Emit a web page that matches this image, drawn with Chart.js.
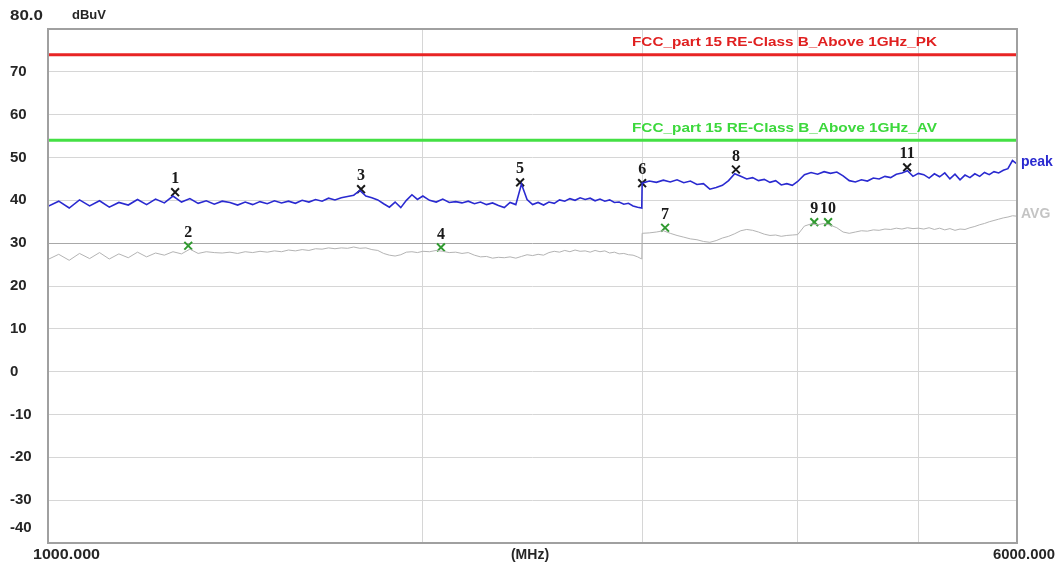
<!DOCTYPE html>
<html>
<head>
<meta charset="utf-8">
<script src="https://cdn.jsdelivr.net/npm/chart.js@4/dist/chart.umd.min.js"></script>
<style>
  body { margin: 0; background: #fff; }
  #wrap { width: 1059px; height: 567px; }
</style>
</head>
<body>
<div id="wrap"><canvas id="chart"></canvas></div>
<script>
// frequencies in MHz, shared by both traces
const freqMHz = [
  1000,1020,1040,1060,1080,1100,1120,1140,1160,1180,1200,1220,1240,1260,1280,1300,1320,1340,1360,1380,
  1400,1420,1440,1460,1480,1500,1520,1540,1560,1580,1600,1620,1640,1660,1680,1700,1720,1740,1760,1780,
  1800,1820,1840,1860,1880,1900,1920,1940,1960,1980,2000,
  2025,2050,2075,2100,2125,2150,2175,2200,2225,2250,2275,2300,2325,2350,2375,2400,2425,2450,2475,2500,
  2525,2550,2575,2600,2625,2650,2675,2700,2725,2750,2775,2800,2825,2850,2875,2900,2925,2950,2975,
  2998,3000,
  3040,3080,3120,3160,3200,3240,3280,3320,3360,3400,3440,3480,3520,3560,3600,3640,3680,3720,3760,3800,
  3840,3880,3920,3960,4000,
  4050,4100,4150,4200,4250,4300,4350,4400,4450,4500,4550,4600,4650,4700,4750,4800,4850,4900,4950,5000,
  5050,5100,5150,5200,5250,5300,5350,5400,5450,5500,5550,5600,5650,5700,5750,5800,5850,5900,5950,6000
];

// peak trace, dBuV
const peakDb = [
  38.6,39.8,38.2,40.1,38.7,39.9,38.4,39.5,38.9,40.2,39.0,40.3,39.4,41.0,39.6,40.4,39.3,39.9,39.1,39.8,
  39.5,38.9,39.6,39.0,39.7,39.2,39.9,39.4,39.8,39.3,40.0,39.6,40.2,39.8,40.5,40.1,40.6,40.9,41.2,42.3,
  41.0,40.6,40.1,39.2,38.4,39.6,38.3,40.0,41.3,40.2,41.0,
  40.0,39.6,40.3,39.5,39.7,39.4,39.8,39.2,39.6,39.0,39.4,38.8,38.3,39.5,39.0,43.8,40.2,39.0,39.5,38.9,
  39.6,39.3,40.1,39.8,40.4,40.0,40.6,40.2,40.5,39.9,40.3,39.8,40.1,39.5,39.6,39.1,39.3,38.7,38.4,
  38.2,44.0,
  44.5,44.2,44.7,44.3,44.8,44.1,44.5,43.7,43.9,42.6,43.0,43.5,44.6,46.2,45.6,45.0,45.3,44.6,44.9,44.2,
  44.6,43.6,43.9,43.5,44.4,
  46.0,46.5,46.1,46.7,46.3,46.6,45.7,44.6,44.3,44.8,44.5,45.2,45.0,45.6,45.3,46.1,46.4,46.9,45.6,46.3,
  46.0,45.2,46.2,45.5,46.4,45.0,46.1,44.8,45.9,45.3,46.2,45.6,46.5,46.0,46.7,46.4,47.0,47.4,49.3,48.5
];

// average trace, dBuV
const avgDb = [
  26.2,27.4,26.0,27.6,26.4,27.8,26.3,27.5,26.6,27.9,26.8,27.7,27.2,28.0,27.5,28.6,27.6,28.0,27.8,27.7,
  27.9,27.6,28.0,27.8,28.1,27.9,28.2,28.0,28.4,28.2,28.5,28.3,28.7,28.6,28.9,28.7,28.9,28.8,29.1,28.8,
  28.9,28.5,28.3,27.6,27.2,27.0,27.3,27.9,28.0,27.8,28.1,
  28.0,28.3,28.1,27.8,27.9,27.6,27.8,27.2,26.8,26.9,26.5,26.7,26.6,26.8,26.5,26.9,27.3,27.1,27.4,27.2,
  27.8,28.1,27.9,28.3,28.0,28.4,28.1,28.2,27.9,28.3,28.0,28.2,27.7,27.9,27.5,27.6,27.3,27.2,26.8,
  26.3,32.3,
  32.4,32.6,32.9,32.3,31.8,31.4,31.0,30.8,30.4,30.2,30.6,31.2,31.6,32.2,32.9,33.2,33.0,32.6,32.1,31.8,
  31.9,31.6,31.8,31.9,32.0,
  34.0,34.5,34.3,34.6,34.2,33.6,32.6,32.3,32.6,32.9,32.8,33.1,33.0,33.3,33.2,33.5,33.3,33.6,33.4,33.5,
  33.3,33.6,33.2,33.5,33.1,33.4,33.0,33.3,33.2,33.6,33.9,34.3,34.6,35.0,35.3,35.6,35.9,36.1,36.4,36.3
];

// limit lines
const limitFreq = [1000, 6000];
const pkLimit = 74;
const avLimit = 54;
const pkLimitName = "FCC_part 15 RE-Class B_Above 1GHz_PK";
const avLimitName = "FCC_part 15 RE-Class B_Above 1GHz_AV";

// markers
const markerNo = ["1","2","3","4","5","6","7","8","9","10","11"];
const markerFreq = [1265, 1296, 1784, 2068, 2394, 3000, 3130, 3568, 4124, 4231, 4897];
const markerDb = [41.9, 29.4, 42.6, 29.0, 44.2, 44.0, 33.6, 47.2, 34.9, 34.9, 47.7];
const markerTrace = ["peak","avg","peak","avg","peak","peak","avg","peak","avg","avg","peak"];

// axes
const yLabels = [70, 60, 50, 40, 30, 20, 10, 0, -10, -20, -30];
const xGrid = [1000, 2000, 3000, 4000, 5000, 6000];

const BLUE = "#2a2ad0";
const GREY = "#b4b4b4";
const MARK_GREEN = "#2f9a2f";

const pts = (xs, ys) => xs.map((x, i) => ({ x: x, y: Array.isArray(ys) ? ys[i] : ys }));

function txt(ctx, s, x, y, font, color, align, width) {
  ctx.save();
  ctx.font = font;
  ctx.fillStyle = color;
  ctx.textBaseline = "middle";
  ctx.textAlign = align || "left";
  if (width) {
    // stretch to the width seen in the picture
    const w = ctx.measureText(s).width;
    const k = width / w;
    ctx.translate(x, y);
    ctx.scale(k, 1);
    ctx.fillText(s, 0, 0);
  } else {
    ctx.fillText(s, x, y);
  }
  ctx.restore();
}

const emcText = {
  id: "emcText",
  beforeDraw(chart) {
    const ctx = chart.ctx;
    ctx.save();
    ctx.fillStyle = "#fff";
    ctx.fillRect(0, 0, chart.width, chart.height);
    ctx.restore();
  },
  afterDatasetsDraw(chart) {
    const ctx = chart.ctx;
    const a = chart.chartArea;
    const xs = chart.scales.x, ys = chart.scales.y;
    const lab = "bold 15px 'Liberation Sans', Arial, sans-serif";
    const ink = "#262626";

    // frame
    ctx.save();
    ctx.strokeStyle = "#a0a0a0";
    ctx.lineWidth = 2;
    ctx.strokeRect(a.left, a.top, a.right - a.left, a.bottom - a.top);
    ctx.restore();

    // y labels
    yLabels.forEach(v => txt(ctx, String(v), 10, ys.getPixelForValue(v), lab, ink, "left"));
    txt(ctx, "80.0", 10, ys.getPixelForValue(80) - 13, lab, ink, "left", 33);
    txt(ctx, "-40", 10, ys.getPixelForValue(-40) - 15, lab, ink, "left");
    txt(ctx, "dBuV", 72, ys.getPixelForValue(80) - 14, "bold 13px 'Liberation Sans', Arial, sans-serif", ink, "left");

    // x labels
    const by = a.bottom + 12;
    txt(ctx, "1000.000", 33, by, lab, ink, "left", 67);
    txt(ctx, "(MHz)", 530, by, "bold 14px 'Liberation Sans', Arial, sans-serif", ink, "center");
    txt(ctx, "6000.000", 993, by, lab, ink, "left", 62);

    // limit names
    const cx = 632;
    txt(ctx, pkLimitName, cx, ys.getPixelForValue(pkLimit) - 12, "bold 13px 'Liberation Sans', Arial, sans-serif", "#e02020", "left", 305);
    txt(ctx, avLimitName, cx, ys.getPixelForValue(avLimit) - 12, "bold 13px 'Liberation Sans', Arial, sans-serif", "#3cd83c", "left", 305);

    // trace names
    txt(ctx, "peak", a.right + 4, ys.getPixelForValue(peakDb[peakDb.length - 1]) - 2, "bold 14px 'Liberation Sans', Arial, sans-serif", BLUE, "left");
    txt(ctx, "AVG", a.right + 4, ys.getPixelForValue(avgDb[avgDb.length - 1]) - 2, "bold 14px 'Liberation Sans', Arial, sans-serif", "#c4c4c4", "left");

    // marker numbers
    markerNo.forEach((n, i) => {
      const px = xs.getPixelForValue(markerFreq[i]);
      const py = ys.getPixelForValue(markerDb[i]);
      txt(ctx, n, px, py - 13, "bold 16px 'Liberation Serif', 'Times New Roman', serif", "#1a1a1a", "center");
    });
  }
};

new Chart(document.getElementById("chart"), {
  type: "line",
  data: {
    datasets: [
      {
        label: "PK limit",
        data: pts(limitFreq, pkLimit),
        borderColor: "#e82424",
        borderWidth: 3,
        pointRadius: 0
      },
      {
        label: "AV limit",
        data: pts(limitFreq, avLimit),
        borderColor: "#44e044",
        borderWidth: 3,
        pointRadius: 0
      },
      {
        label: "AVG",
        data: pts(freqMHz, avgDb),
        borderColor: GREY,
        borderWidth: 1,
        pointRadius: 0
      },
      {
        label: "peak",
        data: pts(freqMHz, peakDb),
        borderColor: BLUE,
        borderWidth: 1.6,
        pointRadius: 0
      },
      {
        label: "markers",
        data: pts(markerFreq, markerDb),
        showLine: false,
        pointStyle: "crossRot",
        pointRadius: 5.5,
        pointBorderWidth: 2,
        pointBorderColor: markerTrace.map(t => t === "peak" ? "#1a1a1a" : MARK_GREEN)
      }
    ]
  },
  options: {
    responsive: true,
    maintainAspectRatio: false,
    animation: false,
    layout: { padding: { top: 29, right: 42, left: 0, bottom: 0 } },
    plugins: {
      legend: { display: false },
      tooltip: { enabled: false }
    },
    elements: { line: { tension: 0 } },
    scales: {
      x: {
        type: "logarithmic",
        min: 1000,
        max: 6000,
        afterBuildTicks: s => { s.ticks = xGrid.map(v => ({ value: v })); },
        afterFit: s => { s.height = 24; },
        ticks: { display: false },
        border: { display: false },
        grid: { color: "#d6d6d6", lineWidth: 1, drawTicks: false }
      },
      y: {
        min: -40,
        max: 80,
        afterFit: s => { s.width = 48; },
        ticks: { display: false, stepSize: 10 },
        border: { display: false },
        grid: {
          color: c => c.tick && c.tick.value === 30 ? "#a8a8a8" : "#d6d6d6",
          lineWidth: 1,
          drawTicks: false
        }
      }
    }
  },
  plugins: [emcText]
});
</script>
</body>
</html>
